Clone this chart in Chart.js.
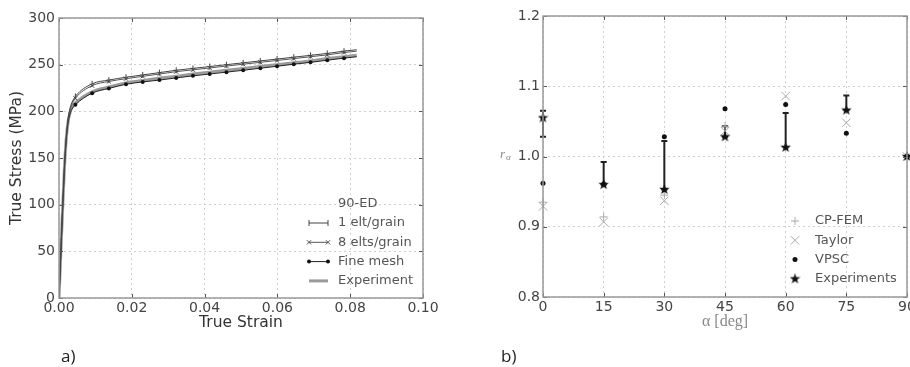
<!DOCTYPE html>
<html>
<head>
<meta charset="utf-8">
<script src="https://cdn.jsdelivr.net/npm/chart.js"></script>
<style>
    body { margin: 0; background: #fff; width: 910px; height: 367px; overflow: hidden; position: relative; }
    canvas { position: absolute; top: 0; }
    #chartA { left: 0; }
    #chartB { left: 455px; }
    .tag { position: absolute; top: 347px; font-family: 'Open Sans', sans-serif; font-size: 17px; line-height: 17px; color: #222; }
</style>
</head>
<body>
<canvas id="chartA" width="455" height="367"></canvas>
<canvas id="chartB" width="455" height="367"></canvas>
<div class="tag" style="left:61px">a)</div>
<div class="tag" style="left:501px">b)</div>
<script>
// Panel a) - true stress / true strain, 90-ED
const strain = [0, 0.0005, 0.001, 0.0015, 0.002, 0.0025, 0.003, 0.0035, 0.0045, 0.0091, 0.0137, 0.0184, 0.023,
    0.0276, 0.0322, 0.0368, 0.0414, 0.046, 0.0506, 0.0553, 0.0599, 0.0645, 0.0691, 0.0737, 0.0783, 0.0818];
const stressOneElt = [0, 48, 96, 140, 172, 192, 203, 209, 216, 229.5, 233.5, 236.5, 239, 241.5, 244, 246, 248,
    250, 252, 254, 256, 258, 260, 262, 264.5, 266];
const stressEightElts = [0, 48, 96, 140, 172, 191, 201, 207, 214, 227.5, 232, 235, 237.5, 240, 242.5, 244.5, 246.5,
    248.5, 250.5, 252.5, 254.5, 256.5, 258.5, 260.5, 263, 264.5];
const stressFineMesh = [0, 48, 96, 140, 170, 188, 197, 202, 207, 219.5, 224.5, 229, 231.5, 233.5, 235.8, 238, 240,
    242, 244, 246.2, 248.3, 250.5, 252.5, 254.8, 257, 258.5];
const stressExperiment = [0, 48, 96, 140, 171, 189, 198, 204, 209, 221, 226, 230.5, 233, 235.5, 237.5, 240, 242,
    244, 246, 248, 250, 252, 254, 256.5, 258.5, 260];
const strainTicks = [0, 0.02, 0.04, 0.06, 0.08, 0.10];
const stressTicks = [0, 50, 100, 150, 200, 250, 300];
const MARKER_FROM = 8; // markers start after the elastic part

// Panel b) - r-values vs. angle
const angles = [0, 15, 30, 45, 60, 75, 90];
const rCpFem = [0.935, 0.914, 0.945, 1.043, 1.013, 1.066, 1.0];
const rTaylor = [0.929, 0.907, 0.937, 1.036, 1.086, 1.048, 1.0];
const rVpsc = [0.962, 0.961, 1.028, 1.068, 1.074, 1.033, 1.0];
const rExp = [1.055, 0.960, 0.953, 1.028, 1.013, 1.066, 1.0];
const rExpLow = [1.028, 0.960, 0.953, 1.028, 1.013, 1.066, 1.0];
const rExpHigh = [1.065, 0.992, 1.022, 1.043, 1.062, 1.087, 1.0];
const angleTicks = [0, 15, 30, 45, 60, 75, 90];
const rTicks = [0.8, 0.9, 1.0, 1.1, 1.2];

const TICK_FONT = { family: 'DejaVu Sans', size: 14 };
const GRID = { color: '#d0d0d0', lineWidth: 1, drawTicks: false };
const BORDER = { display: false, dash: [2, 3] }; // v4: dash applies to the grid lines

function toPoints(xs, ys) {
    return xs.map((x, i) => ({ x: x, y: ys[i] }));
}

function makeStar(size) {
    const c = document.createElement('canvas');
    c.width = c.height = size;
    const g = c.getContext('2d');
    const r = size / 2, ri = r * 0.42;
    g.beginPath();
    for (let i = 0; i < 10; i++) {
        const ang = -Math.PI / 2 + i * Math.PI / 5;
        const rad = i % 2 ? ri : r;
        g.lineTo(r + rad * Math.cos(ang), r + rad * Math.sin(ang));
    }
    g.closePath();
    g.fillStyle = '#111';
    g.fill();
    return c;
}

// no extra room for overhanging tick labels (the last label may be cut, as in the original)
function noLabelPadding(s) {
    s.paddingLeft = 0;
    s.paddingRight = 0;
}

// frame round the plot area with inward ticks (matplotlib style)
const framePlugin = {
    id: 'frame',
    afterDatasetsDraw(chart) {
        const { ctx, chartArea: a, scales } = chart;
        ctx.save();
        ctx.strokeStyle = '#555';
        ctx.lineWidth = 1;
        ctx.beginPath();
        scales.x.ticks.forEach(t => {
            const px = Math.round(scales.x.getPixelForValue(t.value)) + 0.5;
            ctx.moveTo(px, a.bottom); ctx.lineTo(px, a.bottom - 4);
            ctx.moveTo(px, a.top); ctx.lineTo(px, a.top + 4);
        });
        scales.y.ticks.forEach(t => {
            const py = Math.round(scales.y.getPixelForValue(t.value)) + 0.5;
            ctx.moveTo(a.left, py); ctx.lineTo(a.left + 4, py);
            ctx.moveTo(a.right, py); ctx.lineTo(a.right - 4, py);
        });
        ctx.stroke();
        ctx.strokeStyle = '#999';
        ctx.lineWidth = 1.5;
        ctx.strokeRect(a.left, a.top, a.right - a.left, a.bottom - a.top);
        ctx.restore();
    }
};

function drawMarker(ctx, ds, x, y) {
    if (!ds.legendRadius) return;
    ctx.fillStyle = ds.pointBackgroundColor || ds.borderColor;
    ctx.strokeStyle = ds.pointBorderColor || ds.borderColor;
    ctx.lineWidth = ds.pointBorderWidth || 1;
    Chart.helpers.drawPoint(ctx, {
        pointStyle: ds.pointStyle,
        rotation: ds.pointRotation || 0,
        radius: ds.legendRadius,
        borderWidth: ds.pointBorderWidth || 0
    }, x, y);
}

// legend inside the plot, no frame
function insideLegend(cfg) {
    return {
        id: 'insideLegend',
        afterDraw(chart) {
            const ctx = chart.ctx;
            ctx.save();
            ctx.font = '13px "DejaVu Sans"';
            ctx.textBaseline = 'middle';
            ctx.fillStyle = '#555';
            if (cfg.title) ctx.fillText(cfg.title, cfg.textX, cfg.titleY);
            chart.data.datasets.forEach((ds, i) => {
                const y = cfg.y0 + i * cfg.gap;
                if (cfg.lineFrom !== undefined) {
                    ctx.strokeStyle = ds.borderColor;
                    ctx.lineWidth = ds.borderWidth;
                    ctx.beginPath();
                    ctx.moveTo(cfg.lineFrom, y);
                    ctx.lineTo(cfg.lineTo, y);
                    ctx.stroke();
                    drawMarker(ctx, ds, cfg.lineFrom, y);
                    drawMarker(ctx, ds, cfg.lineTo, y);
                } else {
                    drawMarker(ctx, ds, cfg.markerX, y);
                }
                ctx.fillStyle = '#555';
                ctx.fillText(ds.label, cfg.textX, y);
            });
            ctx.restore();
        }
    };
}

const errorBarPlugin = {
    id: 'errorBars',
    beforeDatasetsDraw(chart) {
        const { ctx, scales: { x, y } } = chart;
        ctx.save();
        ctx.strokeStyle = '#222';
        ctx.lineWidth = 2;
        angles.forEach((a, i) => {
            const px = x.getPixelForValue(a);
            const top = y.getPixelForValue(rExpHigh[i]);
            const bot = y.getPixelForValue(rExpLow[i]);
            if (bot - top < 0.5) return;
            ctx.beginPath();
            ctx.moveTo(px, top); ctx.lineTo(px, bot);
            ctx.moveTo(px - 3, top); ctx.lineTo(px + 3, top);
            ctx.moveTo(px - 3, bot); ctx.lineTo(px + 3, bot);
            ctx.stroke();
        });
        ctx.restore();
    }
};

const yTitleB = {
    id: 'yTitleB',
    afterDraw(chart) {
        const ctx = chart.ctx;
        ctx.save();
        ctx.fillStyle = '#888';
        ctx.textBaseline = 'alphabetic';
        ctx.font = 'italic 13px "Liberation Serif"';
        ctx.fillText('r', 45, 158);
        ctx.font = 'italic 9px "Liberation Serif"';
        ctx.fillText('α', 51, 160);
        ctx.restore();
    }
};

function markerRadius(r) {
    return c => (c.dataIndex >= MARKER_FROM && c.dataIndex < strain.length - 1) ? r : 0;
}

function renderStressStrain() {
    const ctx = document.getElementById('chartA');
    new Chart(ctx, {
        type: 'line',
        data: {
            datasets: [{
                label: '1 elt/grain',
                data: toPoints(strain, stressOneElt),
                borderColor: '#444',
                borderWidth: 1,
                pointStyle: 'line',
                pointRotation: 90,
                pointRadius: markerRadius(3),
                legendRadius: 3,
                pointBorderColor: '#444',
                pointBorderWidth: 1
            }, {
                label: '8 elts/grain',
                data: toPoints(strain, stressEightElts),
                borderColor: '#555',
                borderWidth: 1,
                pointStyle: 'crossRot',
                pointRadius: markerRadius(3),
                legendRadius: 3,
                pointBorderColor: '#555',
                pointBorderWidth: 1
            }, {
                label: 'Fine mesh',
                data: toPoints(strain, stressFineMesh),
                borderColor: '#222',
                borderWidth: 1,
                pointStyle: 'circle',
                pointRadius: markerRadius(2),
                legendRadius: 2,
                pointBackgroundColor: '#111',
                pointBorderColor: '#111',
                pointBorderWidth: 0
            }, {
                label: 'Experiment',
                data: toPoints(strain, stressExperiment),
                borderColor: '#9a9a9a',
                borderWidth: 3,
                pointRadius: 0,
                legendRadius: 0
            }]
        },
        options: {
            responsive: false,
            animation: false,
            events: [],
            layout: { padding: { left: 0, right: 32, top: 18, bottom: 0 }, autoPadding: false },
            elements: { line: { cubicInterpolationMode: 'monotone' } },
            plugins: { legend: { display: false }, tooltip: { enabled: false } },
            scales: {
                x: {
                    type: 'linear', min: 0, max: 0.1,
                    afterBuildTicks: s => { s.ticks = strainTicks.map(v => ({ value: v })); },
                    afterFit: s => { s.height = 69; noLabelPadding(s); },
                    grid: GRID,
                    border: BORDER,
                    ticks: { font: TICK_FONT, color: '#444', padding: 2, callback: v => v.toFixed(2) },
                    title: { display: true, text: 'True Strain', color: '#333',
                        font: { family: 'DejaVu Sans', size: 15.5 }, padding: { top: 0, bottom: 35 } }
                },
                y: {
                    min: 0, max: 300,
                    afterBuildTicks: s => { s.ticks = stressTicks.map(v => ({ value: v })); },
                    afterFit: s => { s.width = 59; },
                    grid: GRID,
                    border: BORDER,
                    ticks: { font: TICK_FONT, color: '#444', padding: 4, callback: v => String(v) },
                    title: { display: true, text: 'True Stress (MPa)', color: '#333',
                        font: { family: 'DejaVu Sans', size: 15.5 }, padding: { top: 8, bottom: 0 } }
                }
            }
        },
        plugins: [framePlugin, insideLegend({
            title: '90-ED', titleY: 204, y0: 223, gap: 19.3,
            lineFrom: 309, lineTo: 328, textX: 338
        })]
    });
}

function renderRValues() {
    const ctx = document.getElementById('chartB');
    const star = makeStar(11);
    new Chart(ctx, {
        type: 'scatter',
        data: {
            datasets: [{
                label: 'CP-FEM',
                data: toPoints(angles, rCpFem),
                pointStyle: 'cross',
                pointRadius: 4,
                legendRadius: 4,
                borderColor: '#aaa',
                pointBorderColor: '#aaa',
                pointBorderWidth: 1,
                order: 4,
                clip: false
            }, {
                label: 'Taylor',
                data: toPoints(angles, rTaylor),
                pointStyle: 'crossRot',
                pointRadius: 6,
                legendRadius: 6,
                borderColor: '#aaa',
                pointBorderColor: '#aaa',
                pointBorderWidth: 1,
                order: 3,
                clip: false
            }, {
                label: 'VPSC',
                data: toPoints(angles, rVpsc),
                pointStyle: 'circle',
                pointRadius: 2.5,
                legendRadius: 2.5,
                borderColor: '#111',
                pointBackgroundColor: '#111',
                pointBorderColor: '#111',
                pointBorderWidth: 0,
                order: 2,
                clip: false
            }, {
                label: 'Experiments',
                data: toPoints(angles, rExp),
                pointStyle: star,
                pointRadius: 5.5,
                legendRadius: 5.5,
                borderColor: '#111',
                order: 1,
                clip: false
            }]
        },
        options: {
            responsive: false,
            animation: false,
            events: [],
            layout: { padding: { left: 0, right: 3, top: 16, bottom: 0 }, autoPadding: false },
            plugins: { legend: { display: false }, tooltip: { enabled: false } },
            scales: {
                x: {
                    type: 'linear', min: 0, max: 90,
                    afterBuildTicks: s => { s.ticks = angleTicks.map(v => ({ value: v })); },
                    afterFit: s => { s.height = 70; noLabelPadding(s); },
                    grid: GRID,
                    border: BORDER,
                    ticks: { font: TICK_FONT, color: '#444', padding: 2, callback: v => String(v) },
                    title: { display: true, text: 'α [deg]', color: '#888',
                        font: { family: 'Liberation Serif', size: 16 }, padding: { top: 0, bottom: 36 } }
                },
                y: {
                    min: 0.8, max: 1.2,
                    afterBuildTicks: s => { s.ticks = rTicks.map(v => ({ value: v })); },
                    afterFit: s => { s.width = 88; },
                    grid: GRID,
                    border: BORDER,
                    ticks: { font: TICK_FONT, color: '#444', padding: 3, callback: v => v.toFixed(1) }
                }
            }
        },
        plugins: [errorBarPlugin, framePlugin, yTitleB, insideLegend({
            y0: 221, gap: 19.3, markerX: 340, textX: 360
        })]
    });
}

document.addEventListener('DOMContentLoaded', function() {
    renderStressStrain();
    renderRValues();
});
</script>
</body>
</html>
